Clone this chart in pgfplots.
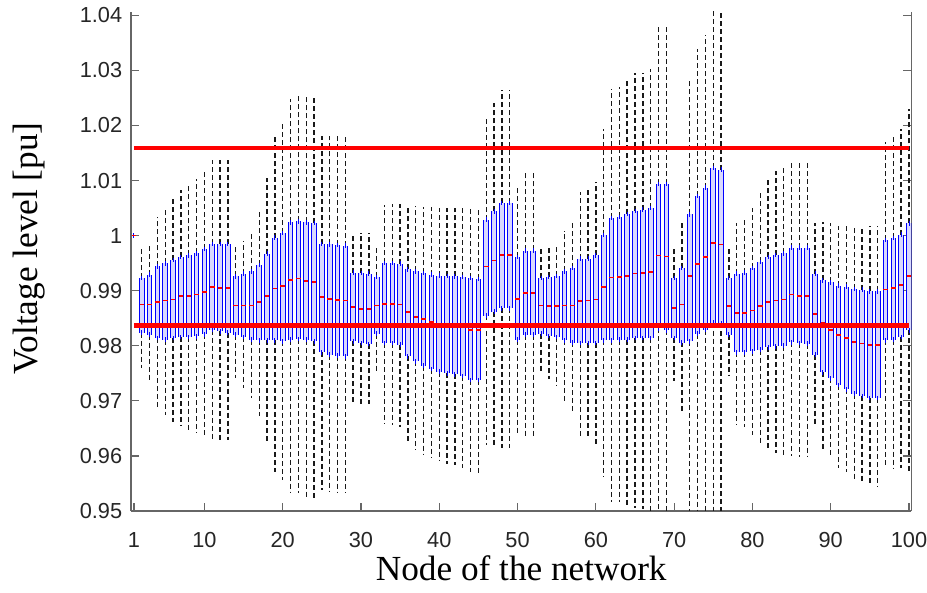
\documentclass[border=0pt]{standalone}
\usepackage{pgfplots}
\usepackage{pgfplotstable}
\pgfplotsset{compat=1.18}
\usepackage{fontspec}
\setmainfont{Liberation Serif}
\newfontfamily\axfont{Liberation Sans}

% node, lower whisker, Q1, median, Q3, upper whisker (pu)
\pgfplotstableread{
node lw q1 med q3 uw
1 1.0000 1.0000 1.0000 1.0000 1.0000
2 0.9759 0.9824 0.9875 0.9923 0.9978
3 0.9735 0.9820 0.9875 0.9929 0.9984
4 0.9687 0.9814 0.9879 0.9944 1.0034
5 0.9675 0.9811 0.9882 0.9950 1.0048
6 0.9662 0.9814 0.9884 0.9956 1.0067
7 0.9655 0.9816 0.9890 0.9961 1.0082
8 0.9647 0.9816 0.9890 0.9964 1.0091
9 0.9641 0.9817 0.9893 0.9968 1.0103
10 0.9635 0.9821 0.9898 0.9976 1.0119
11 0.9630 0.9829 0.9907 0.9985 1.0138
12 0.9629 0.9826 0.9905 0.9985 1.0138
13 0.9629 0.9824 0.9905 0.9985 1.0138
14 0.9741 0.9820 0.9873 0.9926 0.9981
15 0.9723 0.9816 0.9873 0.9931 0.9990
16 0.9705 0.9811 0.9873 0.9935 1.0005
17 0.9672 0.9810 0.9879 0.9947 1.0046
18 0.9624 0.9810 0.9890 0.9967 1.0105
19 0.9570 0.9810 0.9904 0.9996 1.0184
20 0.9556 0.9808 0.9908 1.0005 1.0205
21 0.9533 0.9811 0.9920 1.0024 1.0248
22 0.9533 0.9812 0.9922 1.0026 1.0253
23 0.9526 0.9811 0.9917 1.0024 1.0252
24 0.9521 0.9808 0.9916 1.0023 1.0252
25 0.9539 0.9788 0.9888 0.9985 1.0181
26 0.9535 0.9784 0.9885 0.9984 1.0181
27 0.9535 0.9782 0.9883 0.9983 1.0181
28 0.9532 0.9781 0.9882 0.9982 1.0181
29 0.9697 0.9808 0.9870 0.9933 1.0005
30 0.9694 0.9805 0.9867 0.9932 1.0005
31 0.9694 0.9803 0.9867 0.9931 1.0005
32 0.9750 0.9822 0.9873 0.9925 0.9979
33 0.9658 0.9805 0.9876 0.9950 1.0055
34 0.9656 0.9805 0.9876 0.9950 1.0058
35 0.9653 0.9802 0.9875 0.9949 1.0058
36 0.9624 0.9781 0.9861 0.9939 1.0055
37 0.9611 0.9772 0.9852 0.9935 1.0053
38 0.9604 0.9764 0.9848 0.9932 1.0052
39 0.9598 0.9758 0.9843 0.9929 1.0052
40 0.9590 0.9753 0.9840 0.9927 1.0050
41 0.9585 0.9750 0.9838 0.9927 1.0050
42 0.9583 0.9748 0.9836 0.9926 1.0050
43 0.9578 0.9745 0.9834 0.9925 1.0050
44 0.9570 0.9738 0.9829 0.9923 1.0048
45 0.9569 0.9738 0.9829 0.9921 1.0048
46 0.9620 0.9855 0.9944 1.0029 1.0217
47 0.9617 0.9862 0.9955 1.0044 1.0241
48 0.9614 0.9868 0.9965 1.0059 1.0265
49 0.9614 0.9868 0.9965 1.0059 1.0265
50 0.9641 0.9811 0.9885 0.9961 1.0087
51 0.9635 0.9820 0.9896 0.9973 1.0114
52 0.9635 0.9820 0.9896 0.9973 1.0114
53 0.9752 0.9822 0.9873 0.9923 0.9978
54 0.9739 0.9818 0.9872 0.9925 0.9981
55 0.9727 0.9816 0.9872 0.9927 0.9985
56 0.9699 0.9810 0.9873 0.9935 1.0008
57 0.9679 0.9806 0.9873 0.9941 1.0028
58 0.9636 0.9805 0.9881 0.9958 1.0079
59 0.9633 0.9805 0.9882 0.9958 1.0084
60 0.9618 0.9805 0.9884 0.9964 1.0097
61 0.9562 0.9810 0.9907 1.0001 1.0193
62 0.9517 0.9810 0.9924 1.0032 1.0267
63 0.9517 0.9811 0.9925 1.0034 1.0270
64 0.9511 0.9811 0.9927 1.0039 1.0284
65 0.9505 0.9814 0.9931 1.0045 1.0295
66 0.9503 0.9814 0.9932 1.0047 1.0296
67 0.9499 0.9814 0.9934 1.0050 1.0302
68 0.9450 0.9832 0.9964 1.0094 1.0381
69 0.9450 0.9828 0.9962 1.0094 1.0381
70 0.9736 0.9814 0.9868 0.9923 0.9978
71 0.9679 0.9806 0.9875 0.9941 1.0028
72 0.9498 0.9808 0.9926 1.0039 1.0284
73 0.9450 0.9822 0.9949 1.0072 1.0338
74 0.9450 0.9829 0.9961 1.0087 1.0365
75 0.9450 0.9842 0.9987 1.0123 1.0450
76 0.9450 0.9841 0.9984 1.0120 1.0450
77 0.9747 0.9820 0.9872 0.9923 0.9978
78 0.9656 0.9788 0.9859 0.9931 1.0022
79 0.9653 0.9788 0.9859 0.9933 1.0028
80 0.9638 0.9790 0.9864 0.9941 1.0050
81 0.9622 0.9793 0.9872 0.9952 1.0081
82 0.9610 0.9797 0.9879 0.9961 1.0105
83 0.9605 0.9799 0.9882 0.9965 1.0117
84 0.9602 0.9800 0.9884 0.9968 1.0123
85 0.9599 0.9806 0.9893 0.9978 1.0137
86 0.9598 0.9805 0.9891 0.9978 1.0137
87 0.9598 0.9804 0.9891 0.9978 1.0137
88 0.9655 0.9784 0.9858 0.9931 1.0022
89 0.9608 0.9752 0.9842 0.9919 1.0024
90 0.9596 0.9741 0.9828 0.9915 1.0022
91 0.9578 0.9729 0.9820 0.9909 1.0018
92 0.9570 0.9721 0.9814 0.9907 1.0018
93 0.9556 0.9713 0.9807 0.9903 1.0017
94 0.9552 0.9709 0.9804 0.9902 1.0017
95 0.9549 0.9705 0.9801 0.9899 1.0017
96 0.9545 0.9705 0.9801 0.9899 1.0017
97 0.9581 0.9810 0.9902 0.9992 1.0170
98 0.9578 0.9811 0.9905 0.9996 1.0182
99 0.9578 0.9816 0.9910 1.0002 1.0193
100 0.9572 0.9828 0.9927 1.0022 1.0229
}\vdata

\pgfplotsset{
  whisk/.style={draw=none, mark=none, forget plot,
    /pgfplots/error bars/y explicit, /pgfplots/error bars/error mark=none,
    /pgfplots/error bars/error bar style={draw=black!90, line width=0.55pt, dash pattern=on 2pt off 1.2pt}},
  edge/.style={draw=none, mark=none, forget plot,
    /pgfplots/error bars/y dir=both, /pgfplots/error bars/y explicit,
    /pgfplots/error bars/error mark=none,
    /pgfplots/error bars/error bar style={draw=blue, line width=0.38pt, solid}},
}

\begin{document}
\begin{tikzpicture}
\begin{axis}[
  scale only axis, width=312.2pt, height=199.6pt,
  xmin=0.62, xmax=100.32, ymin=0.95, ymax=1.0406,
  axis x line*=bottom, axis y line*=box,
  axis line style={black!60, line width=0.5pt},
  tick align=inside, major tick length=3.2pt,
  tick style={black!60, line width=0.5pt},
  xtick={1,10,20,30,40,50,60,70,80,90,100},
  ytick={0.95,0.96,0.97,0.98,0.99,1,1.01,1.02,1.03,1.04},
  scaled y ticks=false,
  yticklabel style={/pgf/number format/fixed, /pgf/number format/precision=2},
  tick label style={font=\axfont\fontsize{8.7}{10}\selectfont, text=black!85,
    /pgf/number format/assume math mode=true},
  xticklabel style={yshift=-5pt},
  xlabel={Node of the network}, ylabel={Voltage level [pu]},
  every axis x label/.style={at={(axis description cs:0.5,-0.115)}, anchor=center,
    font=\fontsize{14.1}{16}\selectfont},
  every axis y label/.style={at={(axis description cs:-0.131,0.5265)}, rotate=90, anchor=center,
    font=\fontsize{14.1}{16}\selectfont},
]
% whiskers
\addplot[whisk, /pgfplots/error bars/y dir=plus]
  table[x=node, y=q3, y error plus expr=\thisrow{uw}-\thisrow{q3}] {\vdata};
\addplot[whisk, /pgfplots/error bars/y dir=minus]
  table[x=node, y=q1, y error minus expr=\thisrow{q1}-\thisrow{lw}] {\vdata};
% box body with top and bottom edges
\addplot[draw=none, mark=none, forget plot,
  error bars/.cd, y dir=both, y explicit, error mark=-,
  error bar style={draw=blue!15, line width=1.85pt, solid},
  error mark options={draw=blue, line width=0.38pt, mark size=0.93pt}]
  table[x=node, y expr=(\thisrow{q1}+\thisrow{q3})/2,
        y error expr=(\thisrow{q3}-\thisrow{q1})/2] {\vdata};
% box side edges
\addplot[edge] table[x expr=\thisrow{node}-0.297, y expr=(\thisrow{q1}+\thisrow{q3})/2,
        y error expr=(\thisrow{q3}-\thisrow{q1})/2] {\vdata};
\addplot[edge] table[x expr=\thisrow{node}+0.297, y expr=(\thisrow{q1}+\thisrow{q3})/2,
        y error expr=(\thisrow{q3}-\thisrow{q1})/2] {\vdata};
% medians
\addplot[only marks, mark=-, mark size=0.9pt, mark options={red, line width=0.7pt}, forget plot]
  table[x=node, y=med] {\vdata};
% voltage limits
\addplot[red, line width=1.9pt] coordinates {(1,1.0159) (100,1.0159)};
\addplot[red, line width=1.9pt] coordinates {(1,0.9837) (100,0.9837)};
\coordinate (bl) at (rel axis cs:0,0);
\coordinate (tr) at (rel axis cs:1,1);
\end{axis}
\pgfresetboundingbox
\path[use as bounding box] ([xshift=-52.4pt,yshift=-32.8pt]bl) rectangle ([xshift=6.2pt,yshift=4.8pt]tr);
\end{tikzpicture}
\end{document}
